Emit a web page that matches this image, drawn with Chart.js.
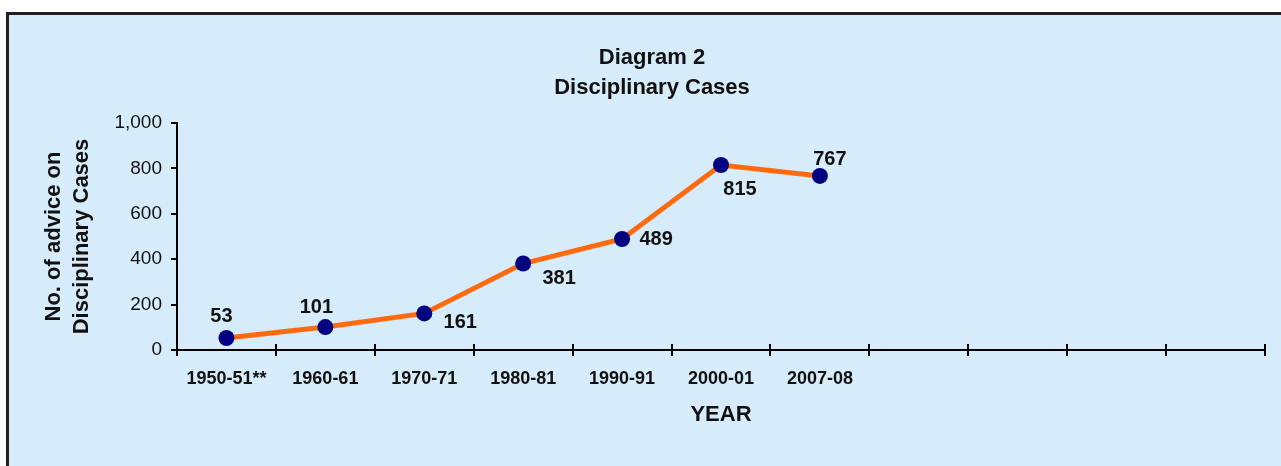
<!DOCTYPE html>
<html>
<head>
<meta charset="utf-8">
<script src="https://cdn.jsdelivr.net/npm/chart.js@4.4.0/dist/chart.umd.min.js"></script>
<style>
  html, body { margin: 0; padding: 0; background: #fff; }
  body { width: 1281px; height: 466px; position: relative; overflow: hidden; }
  .panel {
    position: absolute; left: 6px; top: 12px; width: 1300px; height: 500px;
    background: #D7ECFA; border-left: 3px solid #231F20; border-top: 3px solid #231F20;
  }
  #myChart { position: absolute; left: 0; top: 0; }
</style>
</head>
<body>
<div class="panel"></div>
<canvas id="myChart" width="1281" height="466"></canvas>
<script>
// data
const years = ['1950-51**', '1960-61', '1970-71', '1980-81', '1990-91', '2000-01', '2007-08', '', '', '', ''];
const cases = [53, 101, 161, 381, 489, 815, 767];
const yMin = 0;
const yMax = 1000;
const yStep = 200;

// where each value label sits relative to its point
const labelOffsets = [[-5, -21], [-9, -20], [36, 9], [36, 15], [34, 0], [19, 24], [10, -16]];

const FONT = '"Liberation Sans", Arial, sans-serif';

const valueLabels = {
    id: 'valueLabels',
    afterDatasetsDraw(chart) {
        const ctx = chart.ctx;
        const meta = chart.getDatasetMeta(0);
        ctx.save();
        ctx.font = 'bold 20px ' + FONT;
        ctx.fillStyle = '#111';
        ctx.textAlign = 'center';
        ctx.textBaseline = 'middle';
        meta.data.forEach((pt, i) => {
            const off = labelOffsets[i] || [0, -20];
            ctx.fillText(String(cases[i]), pt.x + off[0], pt.y + off[1]);
        });
        ctx.restore();
    }
};

// x axis tick marks cross the axis line, at category boundaries
const crossTicks = {
    id: 'crossTicks',
    beforeDatasetsDraw(chart) {
        const x = chart.scales.x;
        const ctx = chart.ctx;
        const n = years.length;
        ctx.save();
        ctx.strokeStyle = '#000';
        ctx.lineWidth = 2;
        ctx.beginPath();
        for (let i = 0; i <= n; i++) {
            const px = Math.round(x.left + i * (x.width / n));
            ctx.moveTo(px, x.top - 6);
            ctx.lineTo(px, x.top + 6);
        }
        ctx.stroke();
        ctx.restore();
    }
};

new Chart(document.getElementById('myChart').getContext('2d'), {
    type: 'line',
    data: {
        labels: years,
        datasets: [{
            data: cases,
            borderColor: '#FF6A0E',
            borderWidth: 5,
            pointBackgroundColor: '#000080',
            pointBorderWidth: 0,
            pointRadius: 8,
            tension: 0
        }]
    },
    options: {
        responsive: false,
        devicePixelRatio: 1,
        animation: false,
        layout: { padding: { left: 39, right: 16, top: 0, bottom: 36 } },
        plugins: {
            legend: { display: false },
            tooltip: { enabled: false },
            title: {
                display: true,
                text: ['Diagram 2', 'Disciplinary Cases'],
                color: '#111',
                font: { family: FONT, size: 22, weight: 'bold', lineHeight: 1.35 },
                padding: { top: 43, bottom: 20.6 }
            }
        },
        scales: {
            x: {
                offset: true,
                afterFit(scale) { scale.height = 80; },
                grid: { display: false, drawTicks: false },
                border: { display: true, color: '#000', width: 2 },
                ticks: {
                    autoSkip: false,
                    maxRotation: 0,
                    padding: 18,
                    color: '#111',
                    font: { family: FONT, size: 18, weight: 'bold' }
                },
                title: {
                    display: true,
                    text: 'YEAR',
                    color: '#111',
                    font: { family: FONT, size: 22, weight: 'bold', lineHeight: 1.2 },
                    padding: { top: 13, bottom: 2 }
                }
            },
            y: {
                min: yMin,
                max: yMax,
                afterFit(scale) { scale.width = 138; },
                grid: { drawOnChartArea: false, drawTicks: true, tickLength: 6, color: '#000', lineWidth: 2 },
                border: { display: true, color: '#000', width: 2 },
                ticks: {
                    stepSize: yStep,
                    padding: 9,
                    color: '#111',
                    font: { family: FONT, size: 19 },
                    callback: (v) => v.toLocaleString('en-US')
                },
                title: {
                    display: true,
                    text: ['No. of advice on', 'Disciplinary Cases'],
                    color: '#111',
                    font: { family: FONT, size: 22, weight: 'bold', lineHeight: 1.27 },
                    padding: { top: 1, bottom: 0 }
                }
            }
        }
    },
    plugins: [crossTicks, valueLabels]
});
</script>
</body>
</html>
